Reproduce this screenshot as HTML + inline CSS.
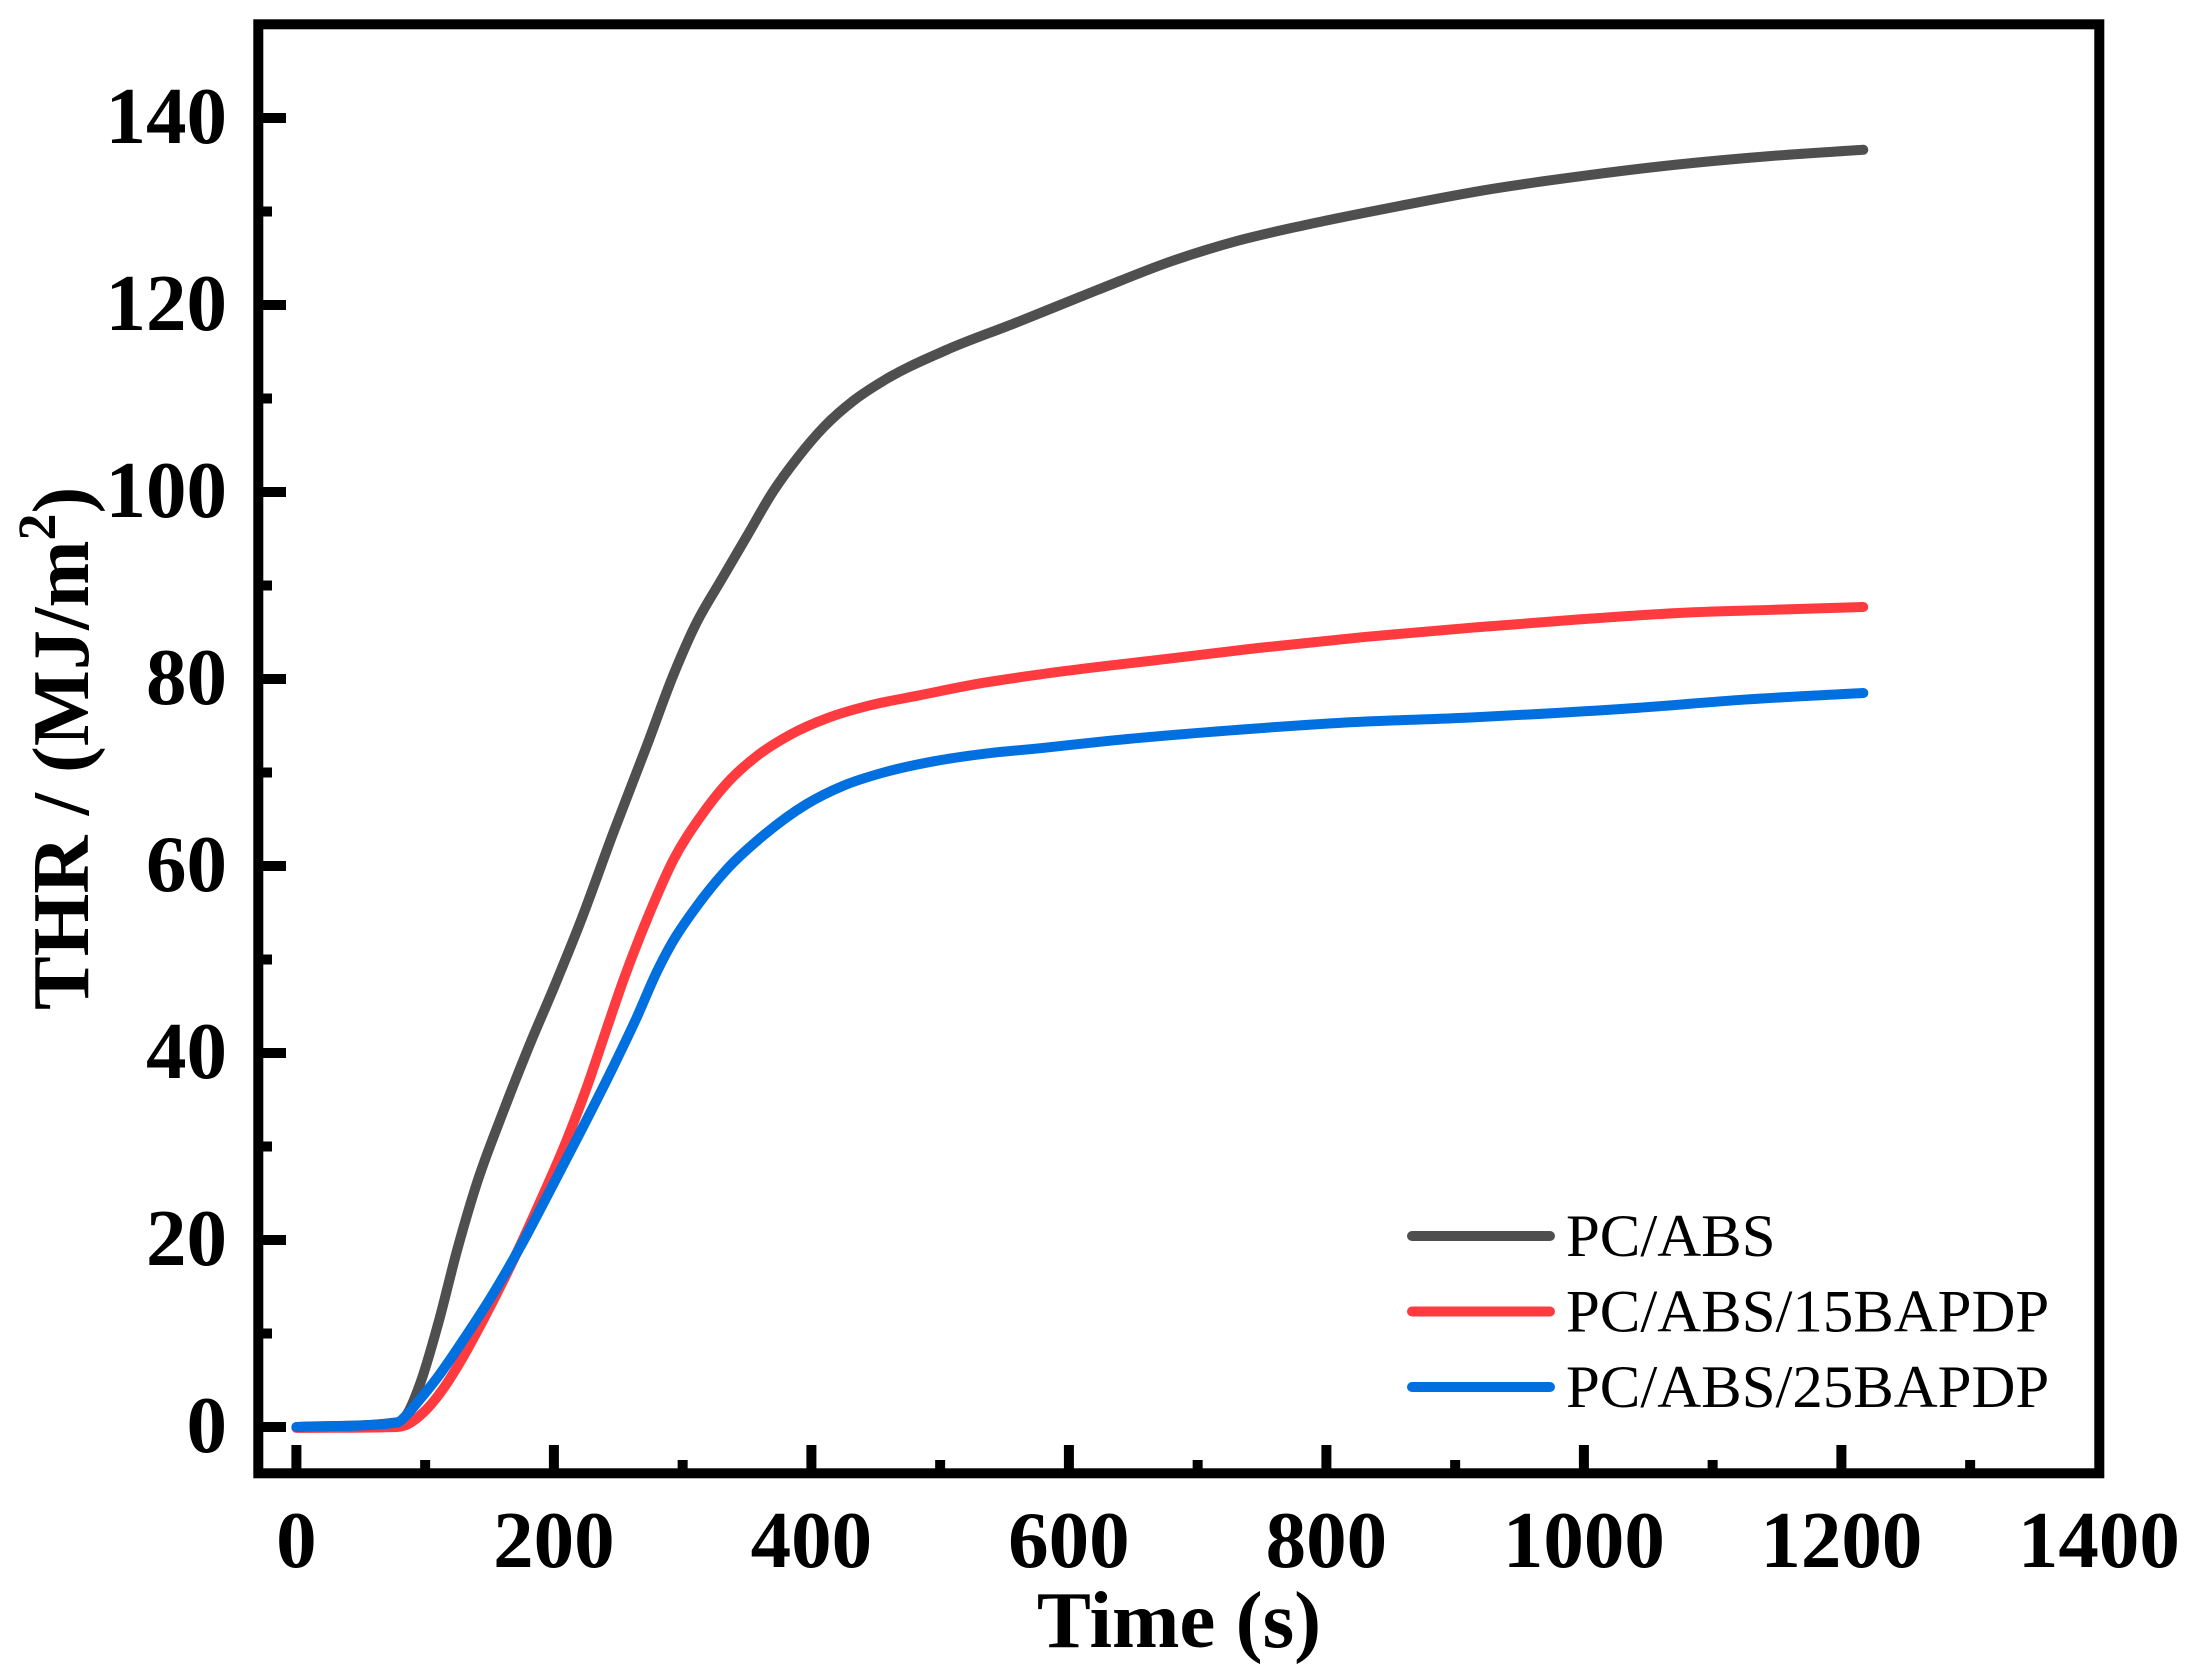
<!DOCTYPE html>
<html lang="en">
<head>
<meta charset="utf-8">
<title>THR vs Time</title>
<style>
html,body{margin:0;padding:0;background:#fff;width:2193px;height:1678px;overflow:hidden}
svg{display:block}
text{font-family:"Liberation Serif",serif;fill:#000}
.b{font-weight:bold}
</style>
</head>
<body>
<svg id="chart" width="2193" height="1678" viewBox="0 0 2193 1678" xmlns="http://www.w3.org/2000/svg">
  <g id="ticks"></g>
  <g id="labels"></g>
  <g id="series"></g>
  <rect x="258.3" y="24.3" width="1841" height="1449" fill="none" stroke="#000" stroke-width="10"/>
  <text class="b" x="1179" y="1647" font-size="81" text-anchor="middle">Time (s)</text>
  <text class="b" transform="translate(88,1010) rotate(-90)" font-size="80.5">THR / (MJ/m<tspan font-size="54" dy="-33">2</tspan><tspan dy="33">)</tspan></text>
  <g id="legend"></g>
</svg>
<script>
const xTickLabels = [0, 200, 400, 600, 800, 1000, 1200, 1400];
const xMinorTicks = [100, 300, 500, 700, 900, 1100, 1300];
const yTickLabels = [0, 20, 40, 60, 80, 100, 120, 140];
const yMinorTicks = [10, 30, 50, 70, 90, 110, 130];

const seriesNames = ["PC/ABS", "PC/ABS/15BAPDP", "PC/ABS/25BAPDP"];
const seriesColors = ["#4f4f4f", "#ff3b3f", "#006fe0"];

const timeAbs = [0,78,85,96,110,125,140,160,180,200,220,246,272,293,310,330,350,370,390,410,433,456,505,557,622,680,732,785,857,928,999,1071,1142,1217];
const thrAbs = [0,0.5,1.2,4.6,11,19,26,33.5,40.5,47,53.8,63.5,72.8,80.5,85.8,90.6,95.3,100,103.8,107,109.8,111.9,115.2,118,121.6,124.7,126.9,128.6,130.6,132.4,133.8,135,135.9,136.6];

const time15 = [0,78,85,99,112,127,143,169,187,210,226,241,254,275,293,314,334,358,383,414,446,482,534,578,679,746,830,914,999,1079,1146,1217];
const thr15 = [-0.1,0,0.2,1.6,3.7,6.9,10.9,18,23.4,30.7,36.5,42.6,47.8,55.2,60.7,65.3,68.8,71.8,74,75.9,77.2,78.2,79.6,80.5,82.2,83.3,84.5,85.5,86.4,87.1,87.4,87.7];

const time25 = [0,78,85,95,109,132,153,176,194,220,246,264,280,291,311,334,363,396,425,456,495,534,578,632,725,809,914,1040,1125,1217];
const thr25 = [0,0.46,1.2,2.8,5.2,9.8,14.3,19.8,24.5,31.4,38.5,43.7,48.7,51.6,55.7,59.6,63.3,66.6,68.6,70,71.2,72,72.6,73.4,74.5,75.3,75.9,76.9,77.8,78.5];

const xScale = v => 296.4 + 1.2875 * v;
const yScale = v => 1427 - 9.35 * v;
const NS = "http://www.w3.org/2000/svg";

function makeTick(x, y, w, h) {
  const r = document.createElementNS(NS, "rect");
  r.setAttribute("x", x);
  r.setAttribute("y", y);
  r.setAttribute("width", w);
  r.setAttribute("height", h);
  r.setAttribute("fill", "#000");
  return r;
}

function makeText(content, x, y, size, anchor, bold) {
  const t = document.createElementNS(NS, "text");
  t.setAttribute("x", x);
  t.setAttribute("y", y);
  t.setAttribute("font-size", size);
  t.setAttribute("text-anchor", anchor);
  if (bold) t.setAttribute("class", "b");
  t.textContent = content;
  return t;
}

/* smooth cubic path: weighted-centred tangents, limited to avoid overshoot */
function curvePath(xs, ys) {
  const px = xs.map(xScale), py = ys.map(yScale), n = px.length;
  const d = [], h = [], m = new Array(n);
  for (let i = 0; i < n - 1; i++) {
    h.push(px[i + 1] - px[i]);
    d.push((py[i + 1] - py[i]) / h[i]);
  }
  m[0] = d[0];
  m[n - 1] = d[n - 2];
  for (let i = 1; i < n - 1; i++) {
    if (d[i - 1] * d[i] <= 0) { m[i] = 0; continue; }
    const t = (d[i - 1] * h[i] + d[i] * h[i - 1]) / (h[i - 1] + h[i]);
    const lim = 3 * Math.min(Math.abs(d[i - 1]), Math.abs(d[i]));
    m[i] = Math.sign(t) * Math.min(Math.abs(t), lim);
  }
  let s = "M" + px[0].toFixed(2) + " " + py[0].toFixed(2);
  for (let i = 0; i < n - 1; i++) {
    const k = h[i] / 3;
    s += "C" + (px[i] + k).toFixed(2) + " " + (py[i] + m[i] * k).toFixed(2) + " " +
         (px[i + 1] - k).toFixed(2) + " " + (py[i + 1] - m[i + 1] * k).toFixed(2) + " " +
         px[i + 1].toFixed(2) + " " + py[i + 1].toFixed(2);
  }
  return s;
}

const tickG = document.getElementById("ticks");
const labelG = document.getElementById("labels");
const seriesG = document.getElementById("series");
const legendG = document.getElementById("legend");

xTickLabels.forEach(v => {
  if (v < 1400) {
    const tick = makeTick(xScale(v) - 5, 1445, 10, 26);
    
    
    tickG.appendChild(tick);
  }
  const label = makeText(String(v), xScale(v), 1567, 81, "middle", true);
  
  
  labelG.appendChild(label);
});

xMinorTicks.forEach(v => {
  const tick = makeTick(xScale(v) - 5, 1460, 10, 11);
  
  
  tickG.appendChild(tick);
});

yTickLabels.forEach(v => {
  const tick = makeTick(260, yScale(v) - 5, 26, 10);
  
  
  tickG.appendChild(tick);
  const label = makeText(String(v), 227, yScale(v) + 25, 81, "end", true);
  
  
  labelG.appendChild(label);
});

yMinorTicks.forEach(v => {
  const tick = makeTick(260, yScale(v) - 5, 12, 10);
  
  
  tickG.appendChild(tick);
});

const seriesTimes = [timeAbs, time15, time25];
const seriesValues = [thrAbs, thr15, thr25];

seriesNames.forEach((name, i) => {
  const p = document.createElementNS(NS, "path");
  p.setAttribute("d", curvePath(seriesTimes[i], seriesValues[i]));
  p.setAttribute("fill", "none");
  p.setAttribute("stroke", seriesColors[i]);
  p.setAttribute("stroke-width", "10");
  p.setAttribute("stroke-linecap", "round");
  p.setAttribute("stroke-linejoin", "round");
  
  
  seriesG.appendChild(p);

  const rowY = 1236 + i * 75.5;
  const swatch = document.createElementNS(NS, "line");
  swatch.setAttribute("x1", 1412);
  swatch.setAttribute("x2", 1550);
  swatch.setAttribute("y1", rowY);
  swatch.setAttribute("y2", rowY);
  swatch.setAttribute("stroke", seriesColors[i]);
  swatch.setAttribute("stroke-width", "10");
  swatch.setAttribute("stroke-linecap", "round");
  
  
  legendG.appendChild(swatch);

  const label = makeText(name, 1566, rowY + 20, 60.8, "start", false);
  
  
  legendG.appendChild(label);
});
</script>
</body>
</html>
